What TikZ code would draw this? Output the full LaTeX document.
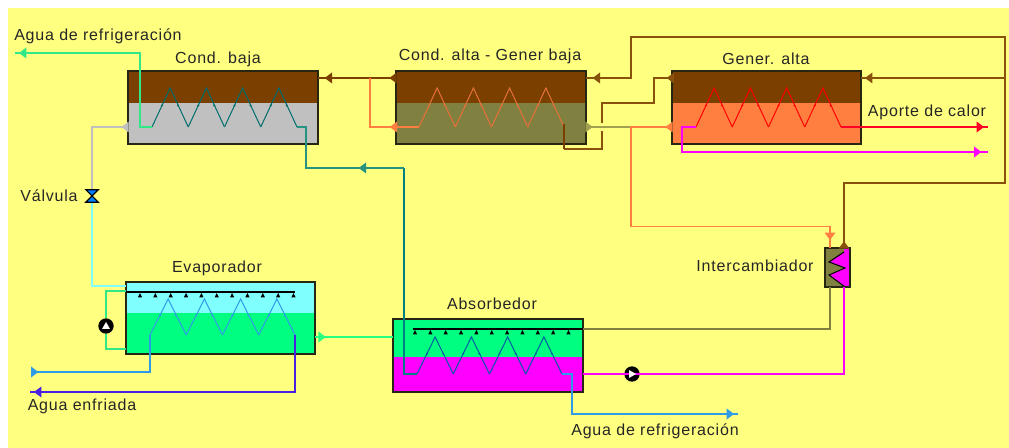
\documentclass[tikz,border=0pt]{standalone}
\usepackage{fontspec}
\setmainfont{Liberation Sans}
\newfontfamily\rotulo[LetterSpace=5]{Liberation Sans}
\usetikzlibrary{arrows.meta,decorations.markings}
\definecolor{fondo}{HTML}{FFFF80}
\definecolor{marron}{HTML}{7B3F00}
\definecolor{oliva}{HTML}{808040}
\definecolor{naranja}{HTML}{FF7F40}
\definecolor{plata}{HTML}{C0C0C0}
\definecolor{turquesa}{HTML}{80FFFF}
\definecolor{verde}{HTML}{00FF80}
\definecolor{verdelinea}{HTML}{30E888}
\definecolor{magenta}{HTML}{FF00FF}
\definecolor{tealfuerte}{HTML}{008080}
\definecolor{violeta}{HTML}{4B1FE0}
\definecolor{azul}{HTML}{2F9BE8}
\definecolor{coral}{HTML}{E8703A}
\tikzset{
  contorno/.style={draw=black!85!fondo,line width=1.3pt},
  tanque/.style={contorno,rectangle,inner sep=0pt,outer sep=0pt},
  etiqueta/.style={font=\rotulo\fontsize{12pt}{14pt}\selectfont,text=black!85,inner sep=0pt},
  linea/.style={line width=1pt},
  gruesa/.style={line width=1.6pt},
  serp/.style={line width=0.75pt},
  bomba/.style={circle,fill=black,inner sep=0pt,minimum size=11.5pt},
  valvula/.style={rectangle,inner sep=0pt,minimum size=9pt},
  punta/.style={postaction={decorate,decoration={markings,
    mark=at position #1 with {\arrow{Triangle[length=5.5pt,width=8pt]}}}}}
}
\newcommand{\deposito}[8]{%
  \node[tanque,fill=#8,minimum width=#4*0.75pt,minimum height=#5*0.75pt,
    path picture={\fill[#7] (path picture bounding box.north west) rectangle
      ([yshift=-#6*0.75pt]path picture bounding box.north east);}] (#1) at (#2,#3) {};}
\newcommand{\serpentin}[5]{%
  \coordinate (#1a) at (#2,#3);
  \coordinate (#1b) at ({#2+145},#3);
  \foreach \i in {0,...,3} {
    \draw[serp,color=#5] ({#2+\i*36.25},#3) -- ++(18.125,-#4) -- ++(18.125,#4);
    \fill[#5] ({#2+\i*36.25+10},{#3-#4*0.55}) circle (1.1);
    \fill[#5] ({#2+\i*36.25+26},{#3-#4*0.55}) circle (1.1);
  }}
\newcommand{\rociador}[4]{%
  \foreach \i in {0,...,10}
    \fill[black] ({#1+\i*15.35},{#2+1}) -- ++(2.2,4.5) -- ++(-4.4,0) -- cycle;
  \draw[black,line width=0.9pt] (#3,#2) -- (#4,#2);}
\begin{document}
\begin{tikzpicture}[x=0.75pt,y=-0.75pt]
  \useasboundingbox (0,0) rectangle (1009,448);
  \fill[fondo] (8,8) rectangle (1009,448);
  % depositos
  \deposito{cb}{223}{107.5}{190}{73}{32}{marron}{plata}
  \deposito{ca}{491}{107.5}{190}{73}{32}{marron}{oliva}
  \deposito{ga}{766.5}{107.5}{189}{73}{32}{marron}{naranja}
  \deposito{ev}{220.5}{318}{189}{72}{31}{turquesa}{verde}
  \deposito{ab}{488}{355.5}{190}{73}{38}{verde}{magenta}
  \node[tanque,fill=oliva,minimum width=18.75pt,minimum height=29.25pt] (ic) at (837.5,267.5) {};
  \fill[magenta] (844,248) -- (844,252) -- (829,262) -- (845,268) -- (829,275) -- (845,287) -- (850,287) -- (850,248) -- cycle;
  \draw[black,line width=0.75pt] (844,252) -- (829,262) -- (845,268) -- (829,275) -- (845,287);
  \draw[contorno,line width=1.1pt] (ic.north west) rectangle (ic.south east);
  % serpentines
  \serpentin{cbs}{152}{127}{39}{tealfuerte!85!black}
  \serpentin{cas}{419}{127}{39}{coral}
  \serpentin{gas}{696}{127}{39}{red}
  \serpentin{evs}{150}{335}{36}{azul}
  \serpentin{abs}{417}{374}{37}{tealfuerte!70!blue}
  % puertos
  \coordinate (cbv) at (318,78);
  \coordinate (cav) at (396,78);
  \coordinate (car) at (586,78);
  \coordinate (gav) at (672,78);
  \coordinate (gar) at (861,78);
  \coordinate (bif) at (370,78);
  \coordinate (ret) at (1005,78);
  \node[valvula] (va) at (92,196) {};
  \node[bomba] (pe) at (106,326) {};
  \node[bomba] (pa) at (632,374) {};
  % vapor
  \draw[linea,marron,punta=5pt,punta=-5pt] (cav) -- (cbv);
  \draw[linea,naranja,punta=22pt] (casa) -- (370,127) -- (bif);
  \draw[linea,marron!90!fondo,punta=5pt,punta=-5pt] (844,248) -- (844,183) -- (1005,183) -- (ret) -- (1005,37) -- (631,37) -- (631,78) -- (car);
  \draw[linea,marron!90!fondo,punta=-3pt] (ret) -- (gar);
  \draw[linea,marron!90!fondo,punta=4pt] (gav) -- (654,78) -- (654,103) -- (602,103) -- (602,123);
  \draw[linea,marron!90!fondo] (602,131) -- (602,149) -- (564,149);
  \draw[gruesa,marron] (564,149) -- (564,124);
  % solucion
  \draw[linea,oliva!75!fondo,punta=5pt] (586,127) -- (631,127);
  \draw[linea,naranja,punta=5pt,punta=-6pt] (672,127) -- (631,127) -- (631,226.5) -- (830,226.5) -- (830,248);
  \draw[linea,oliva] (583,329) -- (830,329) -- (830,287);
  \draw[linea,magenta] (583,374) -- (844,374) -- (844,287);
  \draw[linea,magenta,punta=-5pt] (gasa) -- (682,127) -- (682,152) -- (988,152);
  \draw[linea,red!85!magenta,punta=-3pt] (gasb) -- (988,127);
  % agua
  \draw[gruesa,tealfuerte] (absa) -- (404,374) -- (404,168);
  \draw[linea,tealfuerte!85!fondo,punta=34pt] (404,168) -- (306,168) -- (306,127) -- (cbsb);
  \draw[linea,azul,punta=-3pt] (absb) -- (572,374) -- (572,414) -- (738,414);
  \draw[linea,verdelinea,punta=-3pt] (cbsa) -- (140,127) -- (140,53) -- (15,53);
  \draw[linea,azul,punta=4pt] (33,372) -- (150,372) -- (evsa);
  \draw[linea,violeta,punta=-3pt] (evsb) -- (295,392) -- (30,392);
  % refrigerante
  \draw[linea,plata,punta=5pt] (128,127) -- (92,127) -- (va.north);
  \draw[linea,turquesa] (va.south) -- (92,286) -- (126,286);
  \draw[line width=2pt,verde!85!fondo,punta=8pt] (315,337) -- (393,337);
  \draw[linea,verdelinea] (126,349) -- (106,349) -- (pe.south);
  \draw[linea,verdelinea] (pe.north) -- (106,291) -- (126,291);
  % rociadores
  \rociador{140}{292}{126}{295}
  \rociador{415}{329}{413}{583}
  % valvula y bombas
  \draw[fill=blue!50!cyan,draw=black,line width=0.8pt] (va.north west) -- (va.north east) -- (va.south west) -- (va.south east) -- cycle;
  \fill[white] (106,322) -- (110,329) -- (102,329) -- cycle;
  \fill[white] (629,370) -- (636,374) -- (629,378) -- cycle;
  % textos
  \node[etiqueta,anchor=west] (t1) at (14,36) {Agua de refrigeración};
  \node[etiqueta] (t2) at (218,59) {Cond. baja};
  \node[etiqueta] (t3) at (490,56) {Cond. alta - Gener baja};
  \node[etiqueta] (t4) at (766,59) {Gener. alta};
  \node[etiqueta] (t5) at (927,112) {Aporte de calor};
  \node[etiqueta] (t6) at (49,196) {Válvula};
  \node[etiqueta] (t7) at (217,268) {Evaporador};
  \node[etiqueta] (t8) at (755,266) {Intercambiador};
  \node[etiqueta] (t9) at (492,304) {Absorbedor};
  \node[etiqueta] (t10) at (82,406) {Agua enfriada};
  \node[etiqueta] (t11) at (655,431) {Agua de refrigeración};
\end{tikzpicture}
\end{document}
